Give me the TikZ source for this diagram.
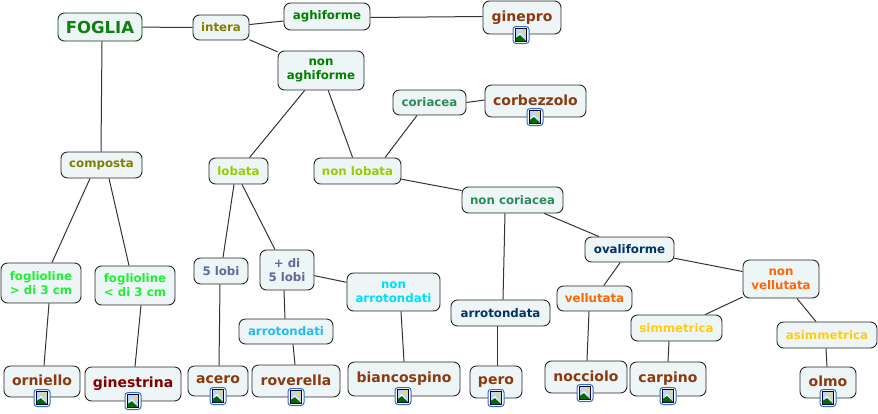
\documentclass[tikz,border=0pt]{standalone}
\usepackage{fontspec}
\setmainfont{DejaVu Sans}
\definecolor{boxfill}{HTML}{EEF5F7}
\definecolor{cGreen}{HTML}{0F800F}
\definecolor{cOlive}{HTML}{808000}
\definecolor{cDkGreen}{HTML}{008000}
\definecolor{cLeaf}{HTML}{8B3A0E}
\definecolor{cSea}{HTML}{2E8B57}
\definecolor{cLime}{HTML}{99CC00}
\definecolor{cBright}{HTML}{22EE33}
\definecolor{cSlate}{HTML}{5F6A9A}
\definecolor{cSky}{HTML}{22BBEE}
\definecolor{cCyan}{HTML}{00DDFF}
\definecolor{cNavy}{HTML}{003366}
\definecolor{cOrange}{HTML}{FF6600}
\definecolor{cYellow}{HTML}{FFCC11}
\definecolor{cMaroon}{HTML}{800000}
\definecolor{iconBlue}{HTML}{2F6FC0}
\tikzset{
  box/.style={draw=black!85,fill=boxfill,rounded corners=6.5pt,line width=.9pt,inner sep=0pt,align=center,
    font=\fontsize{11.8}{14}\selectfont\bfseries},
  leafbox/.style={box,font=\fontsize{14}{16}\selectfont\bfseries,text=cLeaf},
  link/.style={draw=black!80,line width=1pt},
  imgicon/.pic={
    \draw[iconBlue,fill=white,rounded corners=3pt,line width=1pt] (-8,-8.5) rectangle (8,8.5);
    \fill[iconBlue!30] (-5.5,-6.5) rectangle (5.5,6.5);
    \fill[white] (-5.5,3) -- (-1,-2) -- (3,3) -- cycle;
    \fill[cDkGreen!85!black] (-5.5,6.5) -- (-5.5,3) -- (-1,0) -- (5.5,6.5) -- cycle;
    \fill[yellow!85!orange] (2.8,-3.5) circle (1.7);
    \draw[black!75!blue,line width=.8pt] (-5.5,-6.5) rectangle (5.5,6.5);
  }
}
\newcommand{\bx}[7][box]{%
  \pgfmathsetmacro{\cxx}{(#3+#5)/2}\pgfmathsetmacro{\cyy}{(#4+#6)/2}%
  \pgfmathsetmacro{\wdd}{#5-#3}\pgfmathsetmacro{\htt}{#6-#4}%
  \node[#1,minimum width=\wdd pt,minimum height=\htt pt] (#2) at (\cxx,\cyy) {#7};}
\newcommand{\lf}[6]{\bx[leafbox]{#1}{#2}{#3}{#4}{#5}{\raisebox{2pt}{#6}}}
\begin{document}
\begin{tikzpicture}[x=1pt,y=-1pt]
\useasboundingbox (0,0) rectangle (878,413);
\bx[box,font=\fontsize{16.5}{18}\selectfont\bfseries,text=cGreen,draw=cGreen!50!black]{foglia}{58}{13}{142}{41}{FOGLIA}
\bx[box,text=cOlive]{intera}{193}{15}{249}{40}{intera}
\bx[box,text=cDkGreen]{agh}{284}{3}{370}{30}{aghiforme}
\bx[box,text=cDkGreen]{nonagh}{278}{51}{364}{90}{non\\aghiforme}
\bx[box,text=cSea]{cor}{393}{90}{466}{115}{coriacea}
\bx[box,text=cOlive]{comp}{61}{152}{142}{178}{composta}
\bx[box,text=cLime]{lob}{209}{158}{268}{184}{lobata}
\bx[box,text=cLime]{nonlob}{314}{158}{401}{184}{non lobata}
\bx[box,text=cSea]{noncor}{462}{187}{563}{213}{non coriacea}
\bx[box,text=cNavy]{oval}{585}{237}{674}{262}{ovaliforme}
\bx[box,text=cBright]{fa}{1}{263}{81}{303}{foglioline\\> di 3 cm}
\bx[box,text=cBright]{fb}{95}{266}{175}{305}{foglioline\\< di 3 cm}
\bx[box,text=cSlate]{cinque}{194}{258}{248}{284}{5 lobi}
\bx[box,text=cSlate]{piu}{260}{250}{314}{290}{+ di\\5 lobi}
\bx[box,text=cCyan]{nonarr}{347}{273}{440}{311}{non\\arrotondati}
\bx[box,text=cSky]{arr}{239}{319}{333}{344}{arrotondati}
\bx[box,text=cNavy]{arrd}{451}{300}{550}{326}{arrotondata}
\bx[box,text=cOrange]{vel}{557}{286}{632}{311}{vellutata}
\bx[box,text=cOrange]{nonvel}{743}{260}{819}{298}{non\\vellutata}
\bx[box,text=cYellow]{sim}{631}{315}{722}{341}{simmetrica}
\bx[box,text=cYellow]{asim}{777}{322}{877}{348}{asimmetrica}
\lf{ginepro}{483}{1}{561}{34}{ginepro}
\lf{corb}{485}{85}{586}{117}{corbezzolo}
\lf{orn}{4}{366}{80}{397}{orniello}
\bx[leafbox,text=cMaroon]{gin}{85}{367}{181}{401}{\raisebox{2pt}{ginestrina}}
\lf{acero}{188}{366}{248}{396}{acero}
\lf{rov}{252}{365}{340}{397}{roverella}
\lf{bian}{348}{362}{460}{396}{biancospino}
\lf{pero}{470}{366}{522}{398}{pero}
\lf{noc}{545}{361}{627}{393}{nocciolo}
\lf{car}{630}{362}{706}{396}{carpino}
\lf{olmo}{800}{367}{856}{398}{olmo}
% centre-to-centre connectors
\foreach \a/\b in {foglia/intera,intera/agh,intera/nonagh,nonagh/lob,nonagh/nonlob,
  nonlob/noncor,noncor/oval,oval/vel,oval/nonvel,nonvel/sim,nonvel/asim,piu/nonarr}
  \draw[link] (\a) -- (\b);
% horizontal connectors
\draw[link] ([yshift=-1pt]agh.east) -- ([yshift=1pt]ginepro.west);
\draw[link] (cor.east) -- ([yshift=1pt]corb.west);
% vertical-ish connectors: upper node south / lower node north, shifted
\foreach \a/\da/\b/\db in {foglia/2/comp/-0.5,comp/-11.5/fa/11,comp/7.5/fb/-6,fa/8/orn/2,fb/6/gin/2,
  cor/-12.5/nonlob/27.5,noncor/-7.5/arrd/2.5,vel/-5.5/noc/1,nonarr/7.5/bian/0,piu/-3/arr/-1,arr/7/rov/-1,
  lob/-4.5/cinque/2,lob/3.5/piu/-12,sim/-7.5/car/0,arrd/-3.5/pero/1,cinque/-1/acero/1,asim/-1/olmo/-1}
  \draw[link] ([xshift=\da pt]\a.south) -- ([xshift=\db pt]\b.north);
\foreach \p in {(521,35),(535,117),(42,398),(133,401),(218,396),(296,397),(403,396),(496,398),(585,393),(668,396),(828,398)}
  \path \p pic {imgicon};
\end{tikzpicture}
\end{document}
